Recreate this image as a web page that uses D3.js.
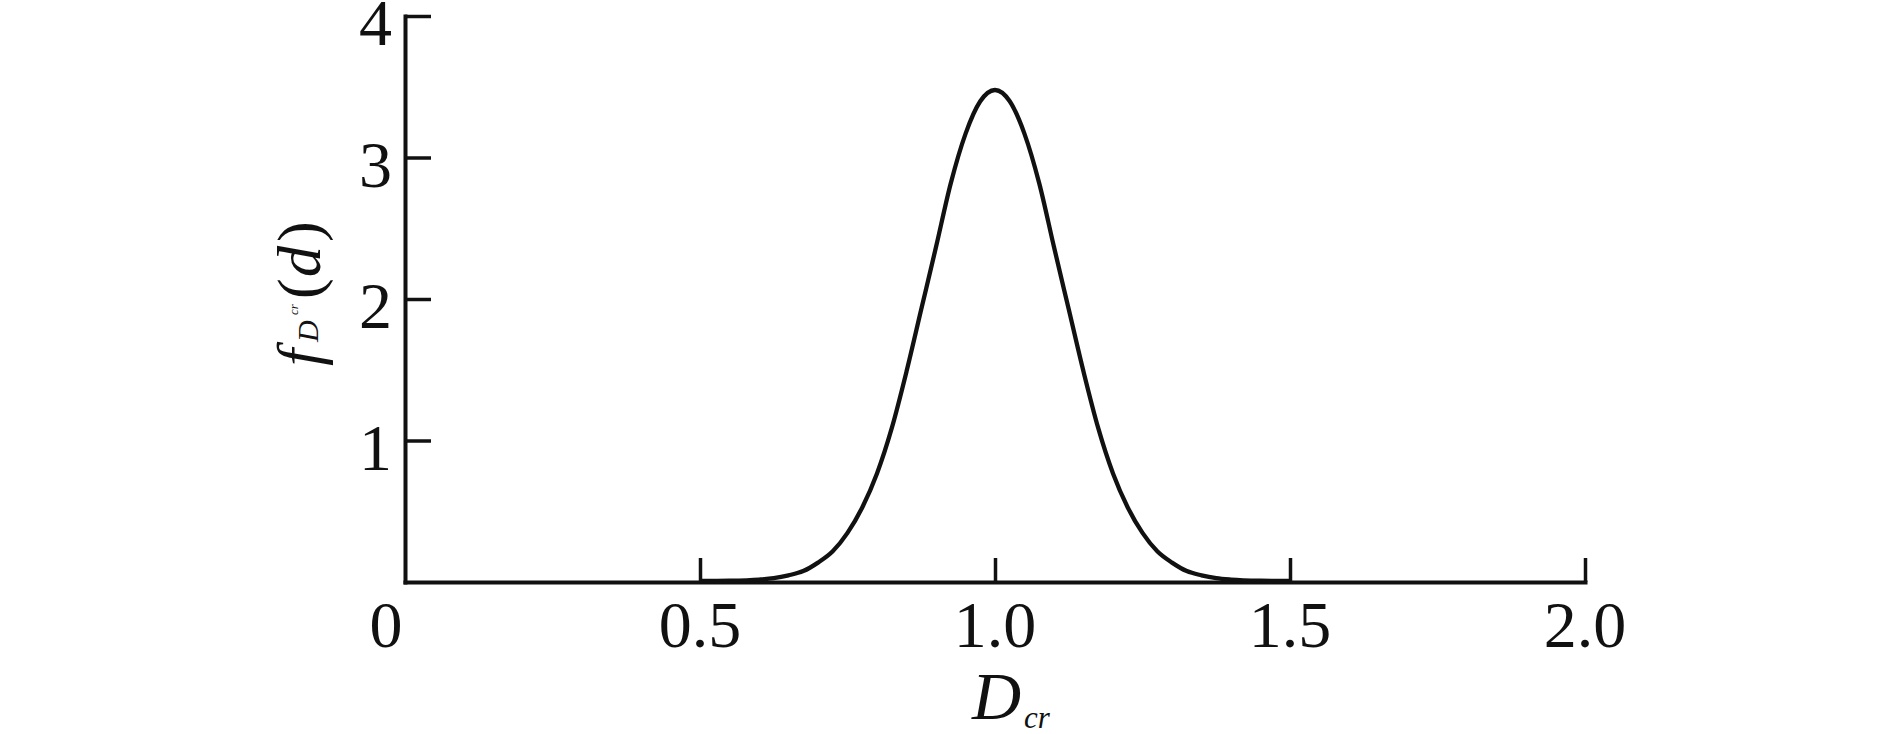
<!DOCTYPE html>
<html>
<head>
<meta charset="utf-8">
<script src="https://cdn.jsdelivr.net/npm/d3@7"></script>
<style>
  html, body { margin: 0; padding: 0; background: #fff; }
  svg { display: block; }
  text { font-family: "Liberation Serif", "Times New Roman", serif; fill: #111; }
</style>
</head>
<body>
<svg id="chart" width="1889" height="734"></svg>
<script>
// ---- data ----
const dValues = [0.500, 0.550, 0.600, 0.625, 0.650, 0.675, 0.700, 0.725, 0.750, 0.775,
                 0.800, 0.825, 0.850, 0.875, 0.900, 0.925, 0.950, 0.975, 1.000,
                 1.025, 1.050, 1.075, 1.100, 1.125, 1.150, 1.175, 1.200, 1.225,
                 1.250, 1.275, 1.300, 1.325, 1.350, 1.375, 1.400, 1.450, 1.500];
const fValues = [0.000, 0.002, 0.010, 0.020, 0.040, 0.070, 0.130, 0.210, 0.340, 0.520,
                 0.760, 1.080, 1.480, 1.920, 2.360, 2.810, 3.160, 3.390, 3.470,
                 3.390, 3.160, 2.810, 2.360, 1.920, 1.480, 1.080, 0.760, 0.520,
                 0.340, 0.210, 0.130, 0.070, 0.040, 0.020, 0.010, 0.002, 0.000];
const xTicks = [0.5, 1.0, 1.5, 2.0];
const xTickLabels = ["0", "0.5", "1.0", "1.5", "2.0"];
const xLabelValues = [0, 0.5, 1.0, 1.5, 2.0];
const yTicks = [1, 2, 3, 4];
const yTickLabels = ["1", "2", "3", "4"];

// ---- layout ----
const svg = d3.select("#chart");
const x = d3.scaleLinear().domain([0, 2]).range([405, 1585]);
const y = d3.scaleLinear().domain([0, 4]).range([582, 16]);

const points = dValues.map((d, i) => ({ d: d, f: fValues[i] }));

// axes (ticks pointing inward)
const gx = svg.append("g").attr("transform", `translate(0,${y(0)})`)
  .call(d3.axisBottom(x).tickValues(xTicks).tickSize(-24).tickSizeOuter(0).tickFormat(""));
const gy = svg.append("g").attr("transform", `translate(${x(0)},0)`)
  .call(d3.axisLeft(y).tickValues(yTicks).tickSize(-26).tickSizeOuter(0).tickFormat(""));

[gx, gy].forEach(g => {
  g.select(".domain").attr("stroke", "#111").attr("stroke-width", 4).attr("stroke-linecap", "square");
  g.selectAll(".tick line").attr("stroke", "#111").attr("stroke-width", 3.5);
});

// curve
svg.append("path")
  .datum(points)
  .attr("fill", "none")
  .attr("stroke", "#111")
  .attr("stroke-width", 4.3)
  .attr("stroke-linejoin", "round")
  .attr("d", d3.line().x(p => x(p.d)).y(p => y(p.f) - 1).curve(d3.curveMonotoneX));

// x tick labels
svg.append("g").selectAll("text")
  .data(xLabelValues)
  .join("text")
  .attr("x", (v, i) => i === 0 ? x(v) - 19 : x(v))
  .attr("y", 647)
  .attr("text-anchor", "middle")
  .attr("font-size", 66)
  .text((v, i) => xTickLabels[i]);

// y tick labels
svg.append("g").selectAll("text")
  .data(yTicks)
  .join("text")
  .attr("x", 392)
  .attr("y", v => y(v) + 29)
  .attr("text-anchor", "end")
  .attr("font-size", 66)
  .text((v, i) => yTickLabels[i]);

// x axis title: D_cr
const xt = svg.append("text").attr("font-style", "italic");
xt.append("tspan").attr("x", 972).attr("y", 719).attr("font-size", 68).text("D");
xt.append("tspan").attr("x", 1024).attr("y", 728).attr("font-size", 31).text("cr");

// y axis title: f_{D_cr}(d), rotated
const yt = svg.append("text").attr("transform", "translate(320,372) rotate(-90)");
yt.append("tspan").attr("x", 6).attr("y", 0).attr("font-size", 62).attr("font-style", "italic").text("f");
yt.append("tspan").attr("x", 30).attr("y", -2).attr("font-size", 30).attr("font-style", "italic").text("D");
yt.append("tspan").attr("x", 57).attr("y", -22).attr("font-size", 13).attr("font-style", "italic").text("cr");
yt.append("tspan").attr("x", 73).attr("y", 0).attr("font-size", 62).text("(");
yt.append("tspan").attr("x", 95).attr("y", 0).attr("font-size", 62).attr("font-style", "italic").text("d");
yt.append("tspan").attr("x", 130).attr("y", 0).attr("font-size", 62).text(")");
</script>
</body>
</html>
